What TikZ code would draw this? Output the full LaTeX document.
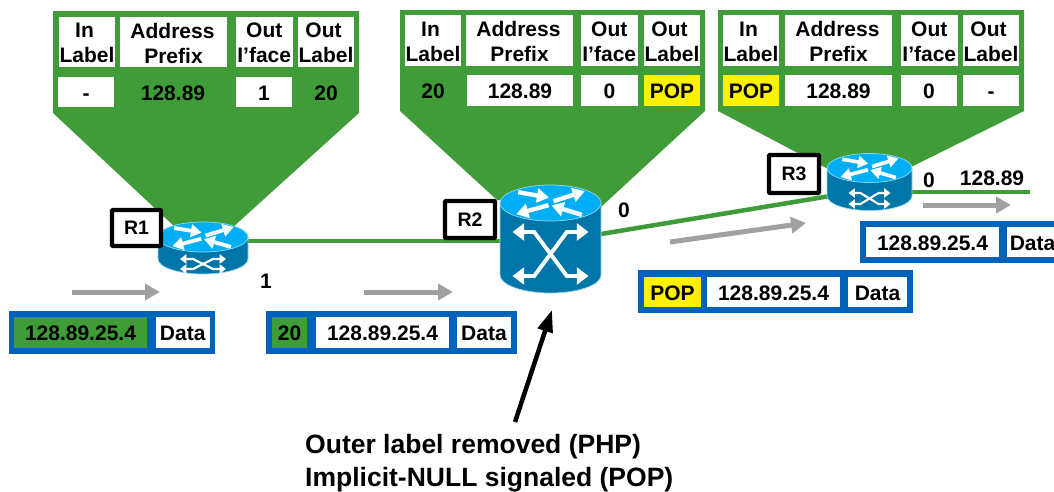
\documentclass[tikz,border=0pt]{standalone}
\usepackage{fontspec}
\setmainfont{Liberation Sans}
\usetikzlibrary{arrows.meta}
\definecolor{lsrgreen}{HTML}{409C38}
\definecolor{pktblue}{HTML}{0062B8}
\definecolor{flowgrey}{HTML}{A0A0A0}
\definecolor{rtop}{HTML}{00AEF5}
\definecolor{rside}{HTML}{0076A8}
\definecolor{redge}{HTML}{8FD8F2}
\tikzset{
  txt/.style={font=\fontsize{21}{25}\selectfont\bfseries,text=black,inner sep=0pt,align=center},
  bigtxt/.style={font=\fontsize{26.5}{33}\selectfont\bfseries,text=black,inner sep=0pt,align=left},
  cellbox/.style={rectangle,inner sep=0pt},
  tag/.style={draw=black,line width=4.3pt,fill=white,rounded corners=1pt,inner sep=0pt,
    font=\fontsize{19.5}{23}\selectfont\bfseries},
  link/.style={draw=lsrgreen,line width=4.5pt},
  flow/.style={draw=flowgrey,line width=5pt,-{Triangle[length=15pt,width=16pt]}},
  callout/.style={draw=black,line width=4.5pt,-{Triangle[length=22pt,width=15pt]}},
  hub/.style={inner sep=0pt,rectangle},
}
% name, x1, y1, x2, y2, fill, text
\newcommand{\cellat}[7]{%
  \node[cellbox,fill=#6,minimum width={(#4-#2)*1pt},minimum height={(#5-#3)*1pt}]
    (#1) at ({(#2+#4)/2},{(#3+#5)/2}) {};
  \node[txt,yshift=-1pt] (#1t) at (#1.center) {#7};}
% blue frame: name, x1,y1,x2,y2
\newcommand{\frameat}[5]{%
  \node[rectangle,fill=pktblue,inner sep=0pt,minimum width={(#4-#2)*1pt},minimum height={(#5-#3)*1pt}]
    (#1) at ({(#2+#4)/2},{(#3+#5)/2}) {};}
% prefix, cell lefts, header y1,y2
\newcommand{\headers}[7]{%
  \cellat{#1h1}{#2}{#6}{#2+56}{#7}{white}{In\kern5pt\\Label}
  \cellat{#1h2}{#3}{#6}{#3+107}{#7}{white}{Address\kern2pt\\Prefix}
  \cellat{#1h3}{#4}{#6}{#4+56.5}{#7}{white}{Out\\I’face}
  \cellat{#1h4}{#5}{#6}{#5+56}{#7}{white}{Out\kern5pt\\Label}}
% cx, top-ellipse cy, rx, ry, bottom-ellipse cy, cross y1, cross y2, cross glyph scale, cross half-width
\newcommand{\routericon}[9]{%
  \begin{scope}[shift={(#1,#2)}]
    \path[fill=rside,draw=redge,line width=.7pt]
      (-#3,0) -- (-#3,{#5-#2}) arc[start angle=180,end angle=0,x radius=#3,y radius=#4] -- (#3,0) -- cycle;
    \path[fill=rtop,draw=redge,line width=.7pt] (0,0) ellipse[x radius=#3,y radius=#4];
    \begin{scope}[every path/.style={draw=white,line width=#3/50*4.3pt}]
      \path[-{Triangle[length=#3/50*12pt,width=#3/50*14pt]}] ({-.64*#3},{-.60*#4}) -- ({-.03*#3},{-.30*#4});
      \path[-{Triangle[length=#3/50*12pt,width=#3/50*14pt]}] ({.06*#3},{-.10*#4}) -- ({.68*#3},{-.66*#4});
      \path[-{Triangle[length=#3/50*12pt,width=#3/50*14pt]}] ({-.04*#3},{.12*#4}) -- ({-.68*#3},{.62*#4});
      \path[-{Triangle[length=#3/50*12pt,width=#3/50*14pt]}] ({.62*#3},{.66*#4}) -- ({.02*#3},{.14*#4});
    \end{scope}
    \begin{scope}[every path/.style={draw=white,line width=#8*3pt,{Triangle[length=#8*9pt,width=#8*13pt]}-{Triangle[length=#8*9pt,width=#8*13pt]}}]
      \path ({-#9},{#6-#2}) -- ({-.43*#9},{#6-#2}) -- ({.43*#9},{#7-#2}) -- ({#9},{#7-#2});
      \path ({-#9},{#7-#2}) -- ({-.43*#9},{#7-#2}) -- ({.43*#9},{#6-#2}) -- ({#9},{#6-#2});
    \end{scope}
  \end{scope}}
\begin{document}
\begin{tikzpicture}[x=1pt,y=-1pt]
\clip (0,0) rectangle (1054,491);
\useasboundingbox (0,0) rectangle (1054,491);
% table backgrounds
\fill[lsrgreen] (53,11) -- (359,11) -- (359,113) -- (232,228) -- (176,228) -- (53,113) -- cycle;
\fill[lsrgreen] (400,10) -- (705,10) -- (705,111) -- (601,207) -- (497,200) -- (400,111) -- cycle;
\fill[lsrgreen] (718,10) -- (1024,10) -- (1024,111) -- (905,170) -- (830,170) -- (718,111) -- cycle;
% hubs
\node[hub,minimum width=90pt,minimum height=53pt] (r1) at (203,249) {};
\node[hub,minimum width=101pt,minimum height=108pt] (r2) at (550.5,239) {};
\node[hub,minimum width=85pt,minimum height=56pt] (r3) at (869.5,182) {};
\coordinate (r1out) at (r1.east |- 0,241);
\coordinate (r2in) at (r2.west |- 0,241);
\coordinate (r2out) at (601,234);
\coordinate (r3in) at (830,196);
\coordinate (r3out) at (r3.east |- 0,192);
\coordinate (stub) at (1030,192);
% links
\draw[link] (r1out) -- (r2in);
\draw[link] (r2out) -- (r3in);
\draw[link] (r3out) -- (stub);
% routers
\routericon{203}{237}{45}{15}{259}{259}{269}{.72}{23}
\routericon{550.5}{203}{50.5}{18}{275}{232}{276}{1.3}{38}
\routericon{869.5}{168}{42.5}{14.5}{196}{193}{204}{.7}{21}
% tags
\node[tag,minimum width=49pt,minimum height=36pt] (t1) at (136.5,228) {R1};
\node[tag,minimum width=50pt,minimum height=37pt] (t2) at (470,219.5) {R2};
\node[tag,minimum width=50pt,minimum height=38pt] (t3) at (794,174) {R3};
% table 1
\headers{a}{59}{120}{236}{298}{17}{67}
\cellat{a1}{58}{77}{114}{107}{white}{\vphantom{0}-}
\node[txt] (a2) at (173,93) {128.89};
\cellat{a3}{236}{77}{292}{107}{white}{1}
\node[txt] (a4) at (326,93) {20};
% table 2
\headers{b}{405}{466}{581}{644}{15}{66}
\node[txt] (b1) at (433,91.5) {20};
\cellat{b2}{467}{75}{573}{106}{white}{128.89}
\cellat{b3}{581}{75}{638}{106}{white}{0}
\cellat{b4}{644}{75}{700}{106}{yellow}{POP}
% table 3
\headers{c}{723}{785}{901}{963}{15}{66}
\cellat{c1}{723}{75}{779}{106}{yellow}{POP}
\cellat{c2}{785}{75}{892}{106}{white}{128.89}
\cellat{c3}{901}{75}{957}{106}{white}{0}
\cellat{c4}{963}{75}{1019}{106}{white}{\vphantom{0}-}
% interface labels
\node[txt] (l1) at (266,281) {1};
\node[txt] (l2) at (624,210) {0};
\node[txt] (l3) at (929,180) {0};
\node[txt] (l4) at (992,178) {128.89};
% flow arrows
\coordinate (f1a) at (72,292); \coordinate (f1b) at (160,292);
\coordinate (f2a) at (364,292); \coordinate (f2b) at (453,292);
\coordinate (f3a) at (670,242); \coordinate (f3b) at (806,223);
\coordinate (f4a) at (923,205); \coordinate (f4b) at (1011,205);
\draw[flow] (f1a) -- (f1b);
\draw[flow] (f2a) -- (f2b);
\draw[flow] (f3a) -- (f3b);
\draw[flow] (f4a) -- (f4b);
% packets
\frameat{p1}{8.5}{311}{215}{354}
\cellat{p1a}{14}{317}{147}{348}{lsrgreen}{128.89.25.4}
\cellat{p1b}{156}{317}{209.5}{348}{white}{Data}
\frameat{p2}{265.5}{311}{517}{354}
\cellat{p2a}{272}{317}{307}{348}{lsrgreen}{20}
\cellat{p2b}{316}{317}{449}{348}{white}{128.89.25.4}
\cellat{p2c}{457}{317}{511}{348}{white}{Data}
\frameat{p3}{638}{270}{913}{313}
\cellat{p3a}{644}{277}{701}{307}{yellow}{POP}
\cellat{p3b}{707}{277}{840}{307}{white}{128.89.25.4}
\cellat{p3c}{848}{277}{907}{307}{white}{Data}
\frameat{p4}{860}{221}{1070}{263}
\cellat{p4a}{866}{227}{999}{257}{white}{128.89.25.4}
\cellat{p4b}{1007}{227}{1064}{257}{white}{\kern-3pt Data\kern3pt}
% note
\node[bigtxt,anchor=west] (note) at (305,463) {Outer label removed (PHP)\\Implicit-NULL signaled (POP)};
\coordinate (notetop) at (515,422);
\coordinate (noteend) at (552,310);
\draw[callout] (notetop) -- (noteend);
\end{tikzpicture}
\end{document}
